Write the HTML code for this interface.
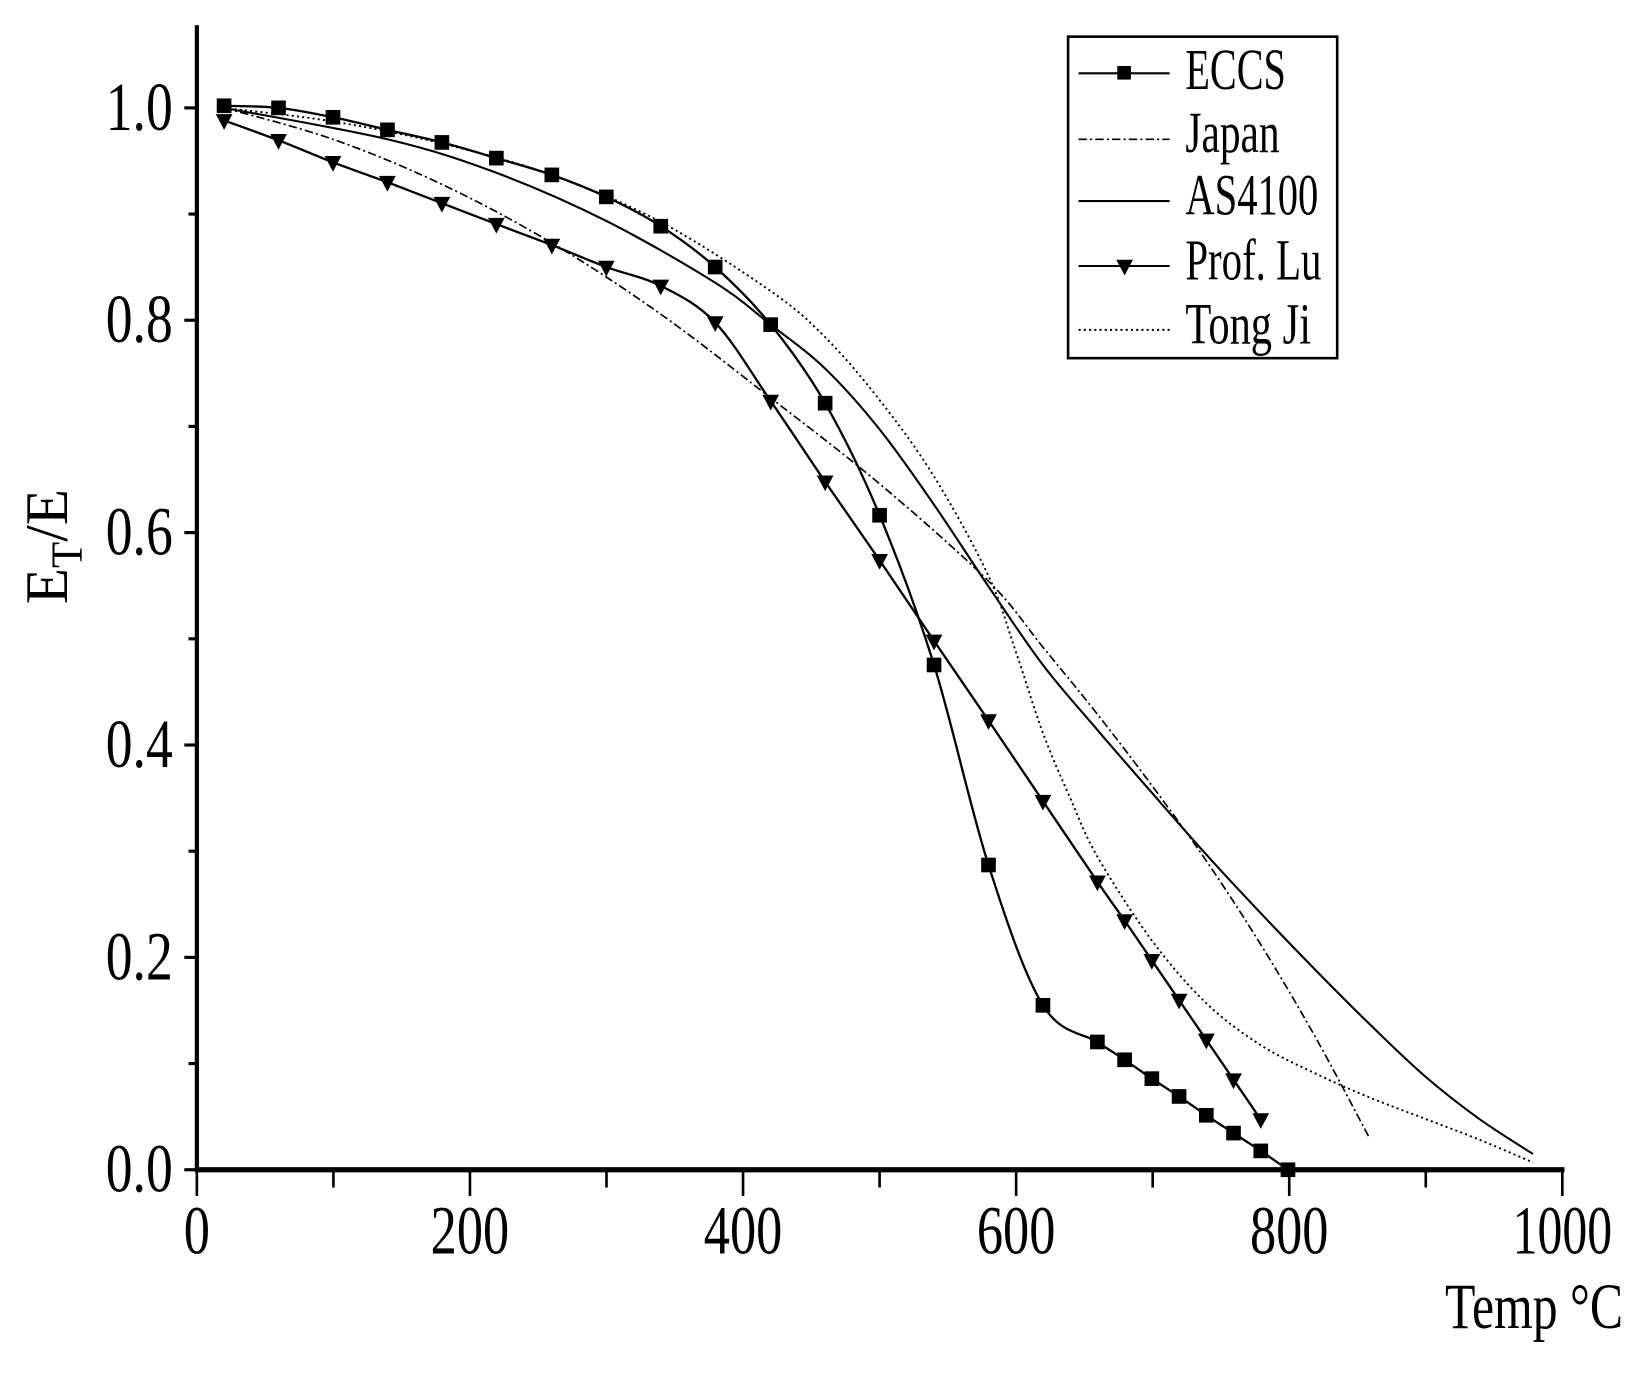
<!DOCTYPE html>
<html><head><meta charset="utf-8"><style>
html,body{margin:0;padding:0;background:#fff;}
svg{display:block;}
text{font-family:"Liberation Serif",serif;fill:#000;}
</style></head><body>
<svg id="s" width="1644" height="1375" viewBox="0 0 1570 1313" preserveAspectRatio="none" xmlns="http://www.w3.org/2000/svg">
<rect width="1570" height="1313" fill="#fff"/>
<g id="g"></g>
<text x="1132" y="85" font-size="56" textLength="96" lengthAdjust="spacingAndGlyphs">ECCS</text>
<text x="1132" y="145" font-size="56" textLength="90" lengthAdjust="spacingAndGlyphs">Japan</text>
<text x="1132" y="205" font-size="56" textLength="127" lengthAdjust="spacingAndGlyphs">AS4100</text>
<text x="1132" y="267" font-size="56" textLength="130" lengthAdjust="spacingAndGlyphs">Prof. Lu</text>
<text x="1132" y="328" font-size="56" textLength="120" lengthAdjust="spacingAndGlyphs">Tong Ji</text>
<text x="1380" y="1268" font-size="62" textLength="170" lengthAdjust="spacingAndGlyphs">Temp °C</text>
<g transform="translate(64,522) rotate(-90)">
<text x="-55" y="0" font-size="58" textLength="110" lengthAdjust="spacingAndGlyphs">E<tspan font-size="42" dy="14">T</tspan><tspan dy="-14">/E</tspan></text>
</g>
</svg>
<script>
var g=document.getElementById('g'),NS='http://www.w3.org/2000/svg';
function el(t,a){var e=document.createElementNS(NS,t);for(var k in a)e.setAttribute(k,a[k]);g.appendChild(e);return e;}
function X(t){return 188+t*1.304;}
function Y(v){return 1117-v*1014;}
function cr(p){var d='M'+p[0][0]+','+p[0][1];for(var i=0;i<p.length-1;i++){var p0=p[i-1]||p[i],p1=p[i],p2=p[i+1],p3=p[i+2]||p2;
d+=' C'+(p1[0]+(p2[0]-p0[0])/6)+','+(p1[1]+(p2[1]-p0[1])/6)+' '+(p2[0]-(p3[0]-p1[0])/6)+','+(p2[1]-(p3[1]-p1[1])/6)+' '+p2[0]+','+p2[1];}return d;}
var eccs=[[214,101],[266,103],[318,112],[370,124],[422,136],[474,151],[527,167],[579,188],[631,216],[683,255],[736,310],[788,385],[840,492],[892,635],[944,826],[996,960],[1048,995],[1074,1012],[1100,1030],[1126,1047],[1152,1065],[1178,1082],[1204,1099],[1230,1117]];
var lu=[[214,115],[266,134],[318,155],[370,174],[422,194],[474,214],[527,234],[579,255],[631,273],[683,308],[736,383],[788,460],[840,535],[892,612],[944,688],[996,765],[1048,842],[1074,879],[1100,917],[1126,955],[1152,993],[1178,1031],[1204,1069]];
var as=[[214,103],[370,133],[474,165],[579,211],[683,270],[736,310],[788,352],[840,410],[892,482],[944,560],[996,635],[1048,697],[1100,757],[1152,816],[1204,872],[1256,926],[1308,978],[1360,1027],[1412,1068],[1464,1102]];
var jp=[[214,103],[318,133],[422,176],[527,232],[631,300],[736,380],[840,462],[944,555],[996,618],[1048,682],[1100,750],[1152,822],[1204,902],[1256,990],[1308,1087]];
var tj=[[214,103],[318,116],[422,137],[527,167],[631,212],[736,278],[788,322],[840,382],[892,455],[944,550],[970,622],[996,700],[1022,762],[1048,818],[1100,898],[1152,958],[1204,998],[1256,1025],[1308,1048],[1360,1068],[1412,1088],[1464,1110]];
el('path',{d:cr(as),fill:'none',stroke:'#000','stroke-width':2});
el('path',{d:cr(jp),fill:'none',stroke:'#000','stroke-width':1.6,'stroke-dasharray':'8,3,2,3'});
el('path',{d:cr(tj),fill:'none',stroke:'#000','stroke-width':1.8,'stroke-dasharray':'2,3'});
el('path',{d:cr(eccs),fill:'none',stroke:'#000','stroke-width':2.2});
el('path',{d:cr(lu),fill:'none',stroke:'#000','stroke-width':2.2});
eccs.forEach(function(p){el('rect',{x:p[0]-7,y:p[1]-7,width:14,height:14,fill:'#000'});});
lu.forEach(function(p){el('path',{d:'M'+(p[0]-8)+','+(p[1]-6)+' L'+(p[0]+8)+','+(p[1]-6)+' L'+p[0]+','+(p[1]+9)+'Z',fill:'#000'});});
el('line',{x1:188,y1:24,x2:188,y2:1119,stroke:'#000','stroke-width':4});
el('line',{x1:186,y1:1117,x2:1494,y2:1117,stroke:'#000','stroke-width':5});
for(var t=0;t<=1000;t+=100){var x=X(t);el('line',{x1:x,y1:1117,x2:x,y2:t%200?1134:1142,stroke:'#000','stroke-width':2.5});
if(t%200==0){var tx=el('text',{x:x,y:1197,'font-size':66,'text-anchor':'middle',textLength:t==0?25:(t==1000?95:75),lengthAdjust:'spacingAndGlyphs'});tx.textContent=t;}}
for(var i=0;i<=10;i++){var y=Y(i/10);el('line',{x1:188,y1:y,x2:i%2?180:176,y2:y,stroke:'#000','stroke-width':3});
if(i%2==0){var ty=el('text',{x:165,y:y+21,'font-size':66,'text-anchor':'end',textLength:64,lengthAdjust:'spacingAndGlyphs'});ty.textContent=(i/10).toFixed(1);}}
el('rect',{x:1020,y:35,width:257,height:307,fill:'none',stroke:'#000','stroke-width':2.5});
el('line',{x1:1030,y1:70,x2:1117,y2:70,stroke:'#000','stroke-width':2});
el('rect',{x:1067,y:63,width:13,height:13,fill:'#000'});
el('line',{x1:1030,y1:133,x2:1117,y2:133,stroke:'#000','stroke-width':1.5,'stroke-dasharray':'8,3,2,3'});
el('line',{x1:1030,y1:192,x2:1117,y2:192,stroke:'#000','stroke-width':2});
el('line',{x1:1030,y1:254,x2:1117,y2:254,stroke:'#000','stroke-width':2});
el('path',{d:'M1066,248 L1082,248 L1074,263Z',fill:'#000'});
el('line',{x1:1030,y1:315,x2:1117,y2:315,stroke:'#000','stroke-width':1.8,'stroke-dasharray':'2,3'});
</script>
</body></html>
